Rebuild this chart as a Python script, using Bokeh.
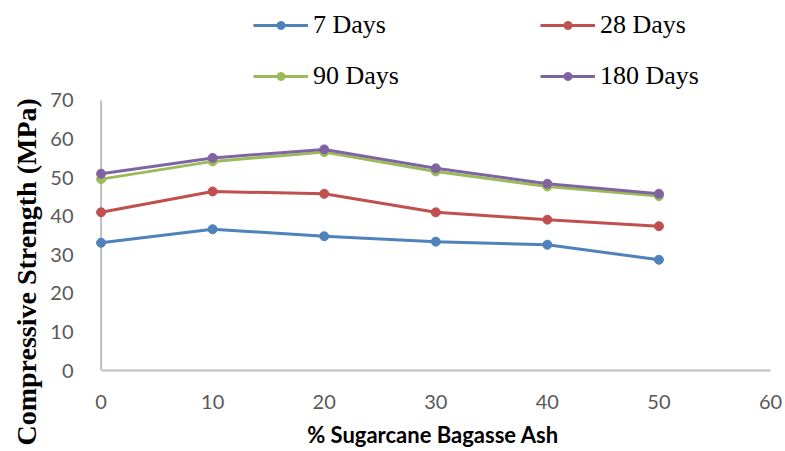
from bokeh.plotting import figure
from bokeh.models import Range1d, Legend, LegendItem, FixedTicker, Title
from bokeh.embed import file_html
from bokeh.resources import INLINE

# ---- data ----
sba_pct = [0, 10, 20, 30, 40, 50]
days7 = [33.1, 36.6, 34.8, 33.4, 32.6, 28.7]
days28 = [41.0, 46.4, 45.8, 41.0, 39.1, 37.4]
days90 = [49.6, 54.2, 56.6, 51.6, 47.7, 45.2]
days180 = [51.0, 55.1, 57.3, 52.4, 48.4, 45.8]
series_names = ["7 Days", "28 Days", "90 Days", "180 Days"]
x_ticks = [0, 10, 20, 30, 40, 50, 60]
y_ticks = [0, 10, 20, 30, 40, 50, 60, 70]

colors = ["#4F81BD", "#C0504D", "#9BBB59", "#8064A2"]

# frame spans whole top area (legend sits inside it)
p = figure(frame_width=675, frame_height=370, output_backend="svg", toolbar_location=None,
           x_range=Range1d(-0.5, 60), y_range=Range1d(0, 95.9),
           min_border_left=95, min_border_right=15, min_border_top=0,
           min_border_bottom=0)
p.outline_line_color = None
p.grid.visible = False

GRAY = "#BFBFBF"
TXT = "#595959"

xa = p.xaxis[0]
xa.ticker = FixedTicker(ticks=x_ticks)
xa.bounds = (x_ticks[0], x_ticks[-1])
xa.axis_line_color = GRAY
xa.axis_line_width = 2
xa.major_tick_line_color = None
xa.minor_tick_line_color = None
xa.major_label_text_font = "Lato"
xa.major_label_text_font_size = "20px"
xa.major_label_text_color = TXT
xa.major_label_standoff = 18
xa.axis_label = "% Sugarcane Bagasse Ash"
xa.axis_label_text_font = "Lato"
xa.axis_label_text_font_style = "bold"
xa.axis_label_text_font_size = "22px"
xa.axis_label_text_color = "#000000"
xa.axis_label_standoff = 9

ya = p.yaxis[0]
ya.ticker = FixedTicker(ticks=y_ticks)
ya.axis_line_color = None
ya.major_tick_line_color = None
ya.minor_tick_line_color = None
ya.major_label_text_font = "Lato"
ya.major_label_text_font_size = "20px"
ya.major_label_text_color = TXT
ya.major_label_standoff = 16

# y-axis title as a side title so it can sit lower than the frame centre
ytitle = Title(text="Compressive Strength (MPa)", align="left", offset=-75,
               vertical_align="middle", standoff=10,
               text_font="Liberation Serif", text_font_style="bold",
               text_font_size="28px", text_color="#000000")
p.add_layout(ytitle, "left")

# vertical axis line at x = 0, from the lowest to the highest y tick
p.segment(x0=[x_ticks[0]], y0=[y_ticks[0]], x1=[x_ticks[0]], y1=[y_ticks[-1]],
          line_color=GRAY, line_width=2)

renderers = {}
for name, vals, c in zip(series_names, [days7, days28, days90, days180], colors):
    r1 = p.line(sba_pct, vals, line_color=c, line_width=3)
    r2 = p.scatter(sba_pct, vals, marker="circle", size=9, fill_color=c, line_color=c)
    renderers[name] = [r1, r2]

# legend grid fills column by column: col1 = 7, 90 ; col2 = 28, 180
legend_order = ["7 Days", "90 Days", "28 Days", "180 Days"]
items = [LegendItem(label=n, renderers=renderers[n]) for n in legend_order]

legend = Legend(items=items, ncols=2, location=(158, 279),
                glyph_width=55, glyph_height=20, label_standoff=5,
                label_width=206, label_height=30, spacing=21, padding=0,
                margin=0,
                label_text_font="Liberation Serif", label_text_font_size="26px",
                label_text_color="#000000",
                background_fill_alpha=0, border_line_alpha=0)
p.add_layout(legend, "center")

open("out.html", "w").write(file_html(p, INLINE))
